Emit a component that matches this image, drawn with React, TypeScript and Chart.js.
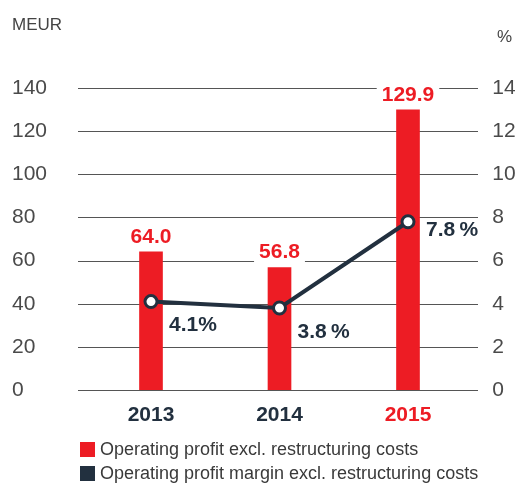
import React, { useEffect, useRef } from "react";
import { Chart, registerables } from "chart.js";

Chart.register(...registerables);

const categories = ["2013", "2014", "2015"];
const profitValues = [64.0, 56.8, 129.9];
const marginValues = [4.1, 3.8, 7.8];
const profitLabels = ["64.0", "56.8", "129.9"];
const marginLabels = ["4.1%", "3.8\u2009%", "7.8\u2009%"];
const leftTicks = [0, 20, 40, 60, 80, 100, 120, 140];
const seriesNames = [
  "Operating profit excl. restructuring costs",
  "Operating profit margin excl. restructuring costs",
];

const RED = "#ED1C24";
const NAVY = "#22303F";
const FONT = "'Liberation Sans', Arial, sans-serif";

const overlay = {
  id: "overlay",
  beforeDatasetsDraw(chart: any) {
    const { ctx } = chart;
    const y = chart.scales.y;
    ctx.save();
    ctx.strokeStyle = "#555555";
    ctx.lineWidth = 1;
    leftTicks.forEach((v) => {
      const py = Math.round(y.getPixelForValue(v)) + 0.5;
      ctx.beginPath();
      ctx.moveTo(78, py);
      ctx.lineTo(478, py);
      ctx.stroke();
    });
    ctx.restore();
  },
  afterDatasetsDraw(chart: any) {
    const { ctx } = chart;
    ctx.save();
    // axis unit titles
    ctx.fillStyle = "#444444";
    ctx.font = `17px ${FONT}`;
    ctx.textBaseline = "middle";
    ctx.textAlign = "left";
    ctx.fillText("MEUR", 12, 25);
    ctx.fillText("%", 497, 37);

    // bar value labels
    const barMeta = chart.getDatasetMeta(0);
    ctx.font = `bold 21px ${FONT}`;
    ctx.textAlign = "center";
    barMeta.data.forEach((bar: any, i: number) => {
      const t = profitLabels[i];
      const w = ctx.measureText(t).width;
      const cy = bar.y - 15;
      ctx.fillStyle = "#ffffff";
      ctx.fillRect(bar.x - w / 2 - 5, cy - 10, w + 10, 20);
      ctx.fillStyle = RED;
      ctx.fillText(t, bar.x, cy);
    });

    // margin labels
    const lineMeta = chart.getDatasetMeta(1);
    ctx.textAlign = "left";
    ctx.fillStyle = NAVY;
    lineMeta.data.forEach((pt: any, i: number) => {
      const dy = i === 2 ? 8 : 24;
      ctx.fillText(marginLabels[i], pt.x + 18, pt.y + dy);
    });

    // legend
    const colors = [RED, NAVY];
    ctx.font = `18px ${FONT}`;
    seriesNames.forEach((name, i) => {
      const cy = 450 + i * 24;
      ctx.fillStyle = colors[i];
      ctx.fillRect(80, cy - 8, 15, 15);
      ctx.fillStyle = "#3a3a3a";
      ctx.fillText(name, 100, cy);
    });
    ctx.restore();
  },
};

export default function App() {
  const ref = useRef<HTMLCanvasElement>(null);
  useEffect(() => {
    if (!ref.current) return;
    const chart = new Chart(ref.current, {
      type: "bar",
      data: {
        labels: categories,
        datasets: [
          {
            type: "bar",
            label: seriesNames[0],
            data: profitValues,
            backgroundColor: RED,
            barThickness: 23,
            yAxisID: "y",
            order: 1,
          },
          {
            type: "line",
            label: seriesNames[1],
            data: marginValues,
            borderColor: NAVY,
            borderWidth: 4,
            pointRadius: 6,
            pointBorderWidth: 3,
            pointBackgroundColor: "#ffffff",
            pointBorderColor: NAVY,
            yAxisID: "y1",
            order: 0,
          },
        ],
      } as any,
      options: {
        animation: false,
        responsive: false,
        devicePixelRatio: 1,
        layout: { padding: { left: 12, top: 88, right: 0, bottom: 0 } },
        plugins: { legend: { display: false }, tooltip: { enabled: false } },
        scales: {
          x: {
            offset: true,
            grid: { display: false, drawTicks: false },
            border: { display: false },
            ticks: {
              padding: 13,
              font: { family: FONT, size: 21, weight: "bold" },
              color: (c: any) => (c.index === 2 ? RED : NAVY),
            },
            afterFit: (s: any) => {
              s.height = 98;
            },
          },
          y: {
            position: "left",
            min: 0,
            max: 140,
            grid: { display: false, drawTicks: false },
            border: { display: false },
            ticks: {
              stepSize: 20,
              crossAlign: "far",
              font: { family: FONT, size: 21 },
              color: "#4a4a4a",
            },
            afterFit: (s: any) => {
              s.width = 74.75;
            },
          },
          y1: {
            position: "right",
            min: 0,
            max: 14,
            grid: { display: false, drawTicks: false },
            border: { display: false },
            ticks: {
              stepSize: 2,
              padding: 20,
              font: { family: FONT, size: 21 },
              color: "#4a4a4a",
            },
            afterFit: (s: any) => {
              s.width = 42.75;
            },
          },
        },
      } as any,
      plugins: [overlay],
    });
    return () => chart.destroy();
  }, []);
  return (
    <div style={{ position: "fixed", left: 0, top: 0, width: 515, height: 488, background: "#fff" }}>
      <canvas ref={ref} width={515} height={488} />
    </div>
  );
}
